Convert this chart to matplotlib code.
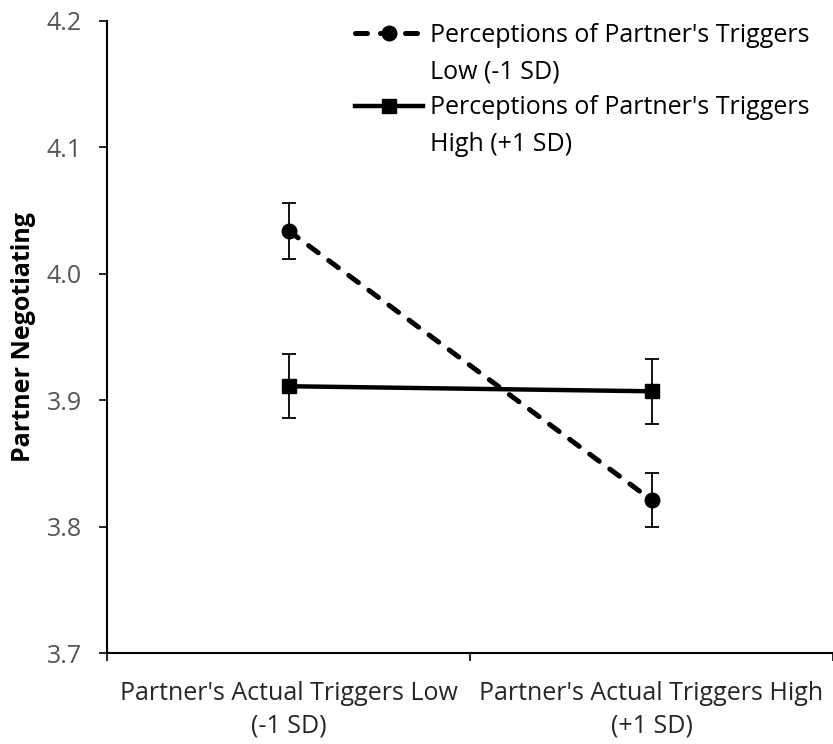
import numpy as np
import matplotlib.pyplot as plt
import matplotlib.transforms as mtransforms
from matplotlib.lines import Line2D

# simple slopes: partner negotiating by actual vs perceived triggers
groups = ["Partner's Actual Triggers Low\n(-1 SD)", "Partner's Actual Triggers High\n(+1 SD)"]
low_mean = [4.034, 3.821]
low_err = [0.022, 0.021]
high_mean = [3.911, 3.907]
high_err = [0.0255, 0.0255]
series_first = ["Perceptions of Partner's Triggers", "Perceptions of Partner's Triggers"]
series_second = ["Low (-1 SD)", "High (+1 SD)"]
y_ticks = [3.7, 3.8, 3.9, 4.0, 4.1, 4.2]

plt.rcParams['font.family'] = ['Open Sans', 'DejaVu Sans']

fig = plt.figure(figsize=(8.33, 7.44), dpi=100)
ax = fig.add_axes([0.1285, 0.1223, 0.8715, 0.8497])

x = np.array([0.5, 1.5])
dash = (0, (2.4, 2.6))

ax.errorbar(x, low_mean, yerr=low_err, fmt='none', ecolor='black',
            elinewidth=1.3, capsize=5, capthick=1.3, zorder=2)
ax.errorbar(x, high_mean, yerr=high_err, fmt='none', ecolor='black',
            elinewidth=1.3, capsize=5, capthick=1.3, zorder=2)
l1, = ax.plot(x, low_mean, color='black', lw=3.6, ls=dash,
              dash_capstyle='round', marker='o', ms=10.5, zorder=3)
l2, = ax.plot(x, high_mean, color='black', lw=3.2, ls='-',
              marker='s', ms=9.5, zorder=3)

ax.set_xlim(0, 2)
ax.set_ylim(3.7, 4.2)
ax.set_yticks(y_ticks)
ax.set_yticklabels([f"{v:.1f}" for v in y_ticks])
ax.set_xticks([0, 1, 2])
ax.set_xticklabels([])
ax.set_xticks(x, minor=True)
ax.set_xticklabels(groups, minor=True, linespacing=1.4)

ax.tick_params(axis='y', direction='out', length=6, width=1.2, pad=12,
               labelsize=18, labelcolor='#555555')
ax.tick_params(axis='x', which='major', direction='out', length=6, width=1.2)
ax.tick_params(axis='x', which='minor', length=0, pad=20,
               labelsize=18, labelcolor='#262626')

for side in ['top', 'right']:
    ax.spines[side].set_visible(False)
for side in ['left', 'bottom']:
    ax.spines[side].set_linewidth(1.5)

ax.set_ylabel('Partner Negotiating', fontsize=18, fontweight='bold')
ax.yaxis.set_label_coords(
    36 / 833, 0.5,
    transform=mtransforms.blended_transform_factory(fig.transFigure, ax.transAxes))

# legend: marker row carries the first text line, blank row the second
blank = Line2D([], [], color='none')
handles = [l1, blank, l2, blank]
labels = [series_first[0], series_second[0], series_first[1], series_second[1]]
ax.legend(handles, labels, loc='upper left',
          bbox_to_anchor=(355 / 833, 1 - 23 / 744), bbox_transform=fig.transFigure,
          frameon=False, fontsize=18, handlelength=2.7, handletextpad=0.28,
          labelspacing=0.45, borderpad=0, borderaxespad=0)

fig.savefig('out.png', dpi=100)
